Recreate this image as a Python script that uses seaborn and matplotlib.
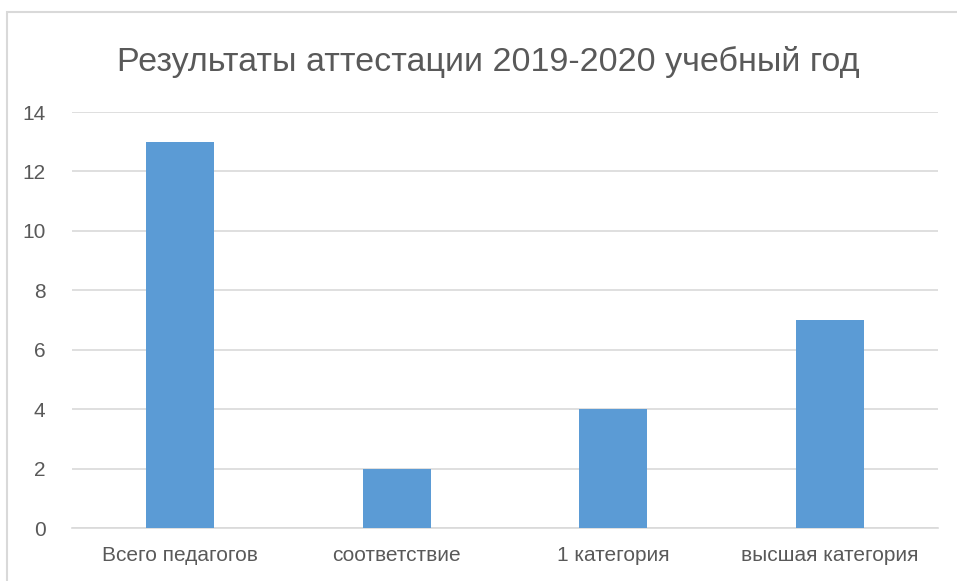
import seaborn as sns
import matplotlib.pyplot as plt
from matplotlib.patches import Rectangle

categories = ['Всего педагогов', 'соответствие', '1 категория', 'высшая категория']
values = [13, 2, 4, 7]
title = 'Результаты аттестации 2019-2020 учебный год'

sns.set_theme(style='white')
plt.rcParams['font.family'] = ['Liberation Sans Narrow', 'Liberation Sans', 'DejaVu Sans']

fig = plt.figure(figsize=(9.57, 5.81), dpi=100)
W, H = 957, 581
ax = fig.add_axes([72 / W, 1 - 528 / H, (938 - 72) / W, (528 - 112) / H])

sns.barplot(x=categories, y=values, color='#5B9BD5', width=0.315, saturation=1,
            linewidth=0, ax=ax, zorder=3)

ax.set_ylim(0, 14)
ax.set_yticks(range(0, 15, 2))
ax.grid(axis='y', color='#D9D9D9', linewidth=1.2, zorder=0)
ax.grid(axis='x', visible=False)
for s in ['top', 'right', 'left']:
    ax.spines[s].set_visible(False)
ax.spines['bottom'].set_color('#D9D9D9')
ax.spines['bottom'].set_linewidth(1.2)
ax.tick_params(axis='both', length=0, colors='#595959', labelsize=15)
ax.tick_params(axis='y', pad=19)
ax.tick_params(axis='x', pad=13)
ax.set_xlabel('')
ax.set_ylabel('')

fig.text(488 / W, 1 - 62 / H, title, ha='center', va='center', fontsize=24.5, color='#595959')

# outer chart frame (extends past the right and bottom edges)
fig.patches.append(Rectangle((7 / W, -0.1), 1.1, 1 - 12 / H + 0.1, transform=fig.transFigure,
                             fill=False, edgecolor='#D9D9D9', linewidth=1.5))

fig.savefig('out.png', dpi=100)
